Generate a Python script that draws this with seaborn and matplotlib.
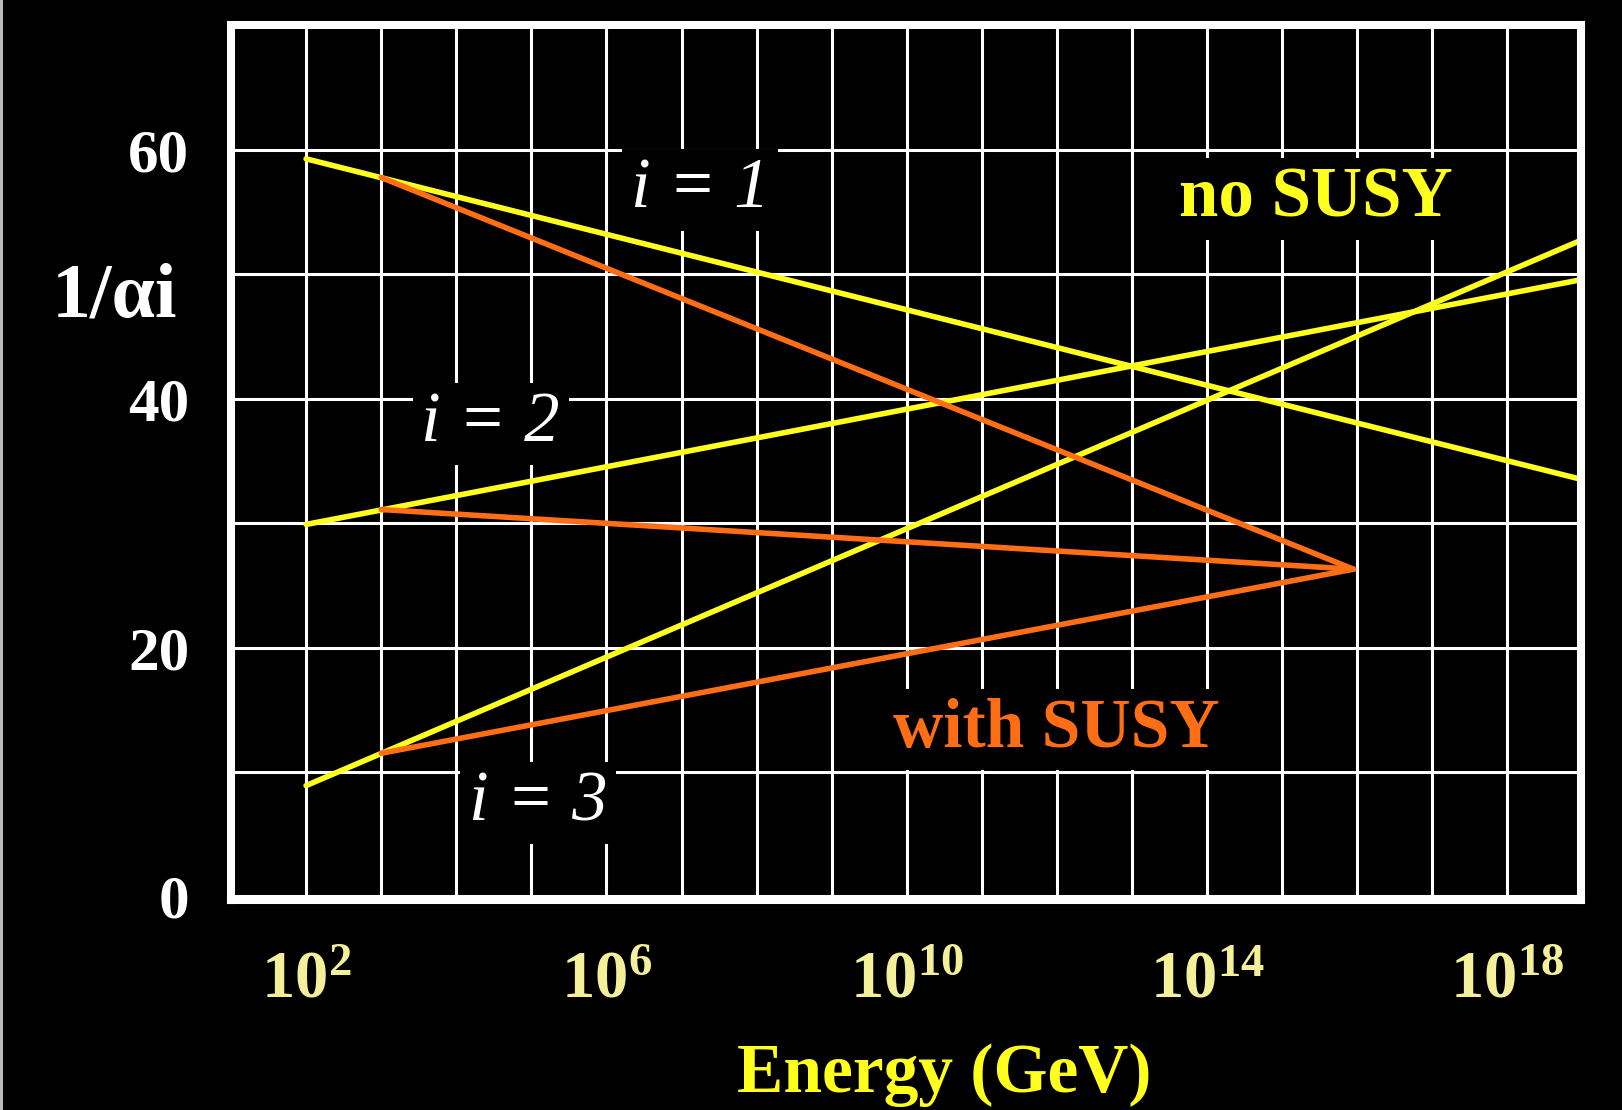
import numpy as np
import pandas as pd
import matplotlib
matplotlib.use("Agg")
import matplotlib.pyplot as plt
import seaborn as sns
from matplotlib.ticker import FixedLocator, FixedFormatter
from matplotlib.patches import Rectangle

# energies in GeV
energy_no_susy = [1e2, 1e19]
energy_susy = [1e3, 10**15.95]

# inverse couplings 1/alpha_i
inv_alpha1_no_susy = [59.3, 33.5]
inv_alpha2_no_susy = [29.9, 49.6]
inv_alpha3_no_susy = [8.9, 52.8]

inv_alpha1_susy = [57.8, 26.3]
inv_alpha2_susy = [31.1, 26.3]
inv_alpha3_susy = [11.5, 26.3]

x_grid_decades = list(range(2, 19))
x_label_decades = [2, 6, 10, 14, 18]
y_grid = [0, 10, 20, 30, 40, 50, 60]
y_labels = ["0", "", "20", "", "40", "", "60"]

YELLOW = "#ffff1e"
ORANGE = "#ff6e14"
PALE_YELLOW = "#f4f09a"

W, H = 1622, 1110


def make_df():
    rows = []
    series = [
        ("no SUSY", "1", energy_no_susy, inv_alpha1_no_susy),
        ("no SUSY", "2", energy_no_susy, inv_alpha2_no_susy),
        ("no SUSY", "3", energy_no_susy, inv_alpha3_no_susy),
        ("with SUSY", "1", energy_susy, inv_alpha1_susy),
        ("with SUSY", "2", energy_susy, inv_alpha2_susy),
        ("with SUSY", "3", energy_susy, inv_alpha3_susy),
    ]
    for model, i, xs, ys in series:
        for x, y in zip(xs, ys):
            rows.append({"model": model, "unit": model + i, "energy": x, "inv_alpha": y})
    return pd.DataFrame(rows)


sns.set_style("dark", {"axes.facecolor": "black", "figure.facecolor": "black"})
plt.rcParams["font.family"] = ["Liberation Serif", "DejaVu Serif"]
plt.rcParams["mathtext.fontset"] = "custom"
plt.rcParams["mathtext.rm"] = "Liberation Serif:bold"
plt.rcParams["mathtext.it"] = "Liberation Serif:italic:bold"
plt.rcParams["mathtext.bf"] = "Liberation Serif:bold"

df = make_df()

fig = plt.figure(figsize=(W / 100, H / 100), dpi=100, facecolor="black")
# thin light strip on the left edge, as in the scanned slide
fig.patches.append(Rectangle((0, 0), 3 / W, 1, transform=fig.transFigure,
                             facecolor="#bbbbbb", edgecolor="none"))
ax = fig.add_axes([231 / W, 1 - 900 / H, 1350 / W, 875.5 / H])
ax.set_facecolor("black")

sns.lineplot(data=df, x="energy", y="inv_alpha", hue="model", units="unit",
             estimator=None, palette={"no SUSY": YELLOW, "with SUSY": ORANGE},
             linewidth=4, legend=False, ax=ax)

ax.set_xscale("log")
ax.set_xlim(1e1, 10**18.98)
ax.set_ylim(-0.3, 70.1)

ax.xaxis.set_major_locator(FixedLocator([10.0**k for k in x_grid_decades]))
ax.xaxis.set_major_formatter(FixedFormatter(
    [r"$10^{%d}$" % k if k in x_label_decades else "" for k in x_grid_decades]))
ax.xaxis.set_minor_locator(FixedLocator([]))
ax.yaxis.set_major_locator(FixedLocator(y_grid))
ax.yaxis.set_major_formatter(FixedFormatter(y_labels))

ax.grid(True, color="white", linewidth=2.2)
ax.set_axisbelow(True)
ax.tick_params(axis="both", length=0)
ax.tick_params(axis="x", pad=36, labelsize=48, labelcolor=PALE_YELLOW)
ax.tick_params(axis="y", pad=30, labelsize=44, labelcolor="white")
for lab in ax.get_yticklabels():
    lab.set_fontweight("bold")
ax.set_xlabel("")
ax.set_ylabel("")

for s in ax.spines.values():
    s.set_visible(True)
    s.set_color("white")
    s.set_linewidth(5.8)

box = dict(facecolor="black", edgecolor="none", boxstyle="square,pad=0.12")
ax.text(10**7.25, 56.8, "i = 1", color="white", fontsize=51, style="italic",
        ha="center", va="center", bbox=box)
ax.text(10**4.46, 38.0, "i = 2", color="white", fontsize=51, style="italic",
        ha="center", va="center", bbox=box)
ax.text(10**5.09, 7.5, "i = 3", color="white", fontsize=51, style="italic",
        ha="center", va="center", bbox=box)
ax.text(10**15.45, 56.1, "no SUSY", color=YELLOW, fontsize=51, fontweight="bold",
        ha="center", va="center", bbox=box)
ax.text(10**11.99, 13.4, "with SUSY", color=ORANGE, fontsize=50, fontweight="bold",
        ha="center", va="center", bbox=box)

fig.text(52 / W, 1 - 298 / H, "1/αi", color="white", fontsize=56, fontweight="bold",
         ha="left", va="center")
fig.text(944 / W, 1 - 1075 / H, "Energy (GeV)", color=YELLOW, fontsize=50,
         fontweight="bold", ha="center", va="center")

fig.savefig("out.png", dpi=100, facecolor="black")
